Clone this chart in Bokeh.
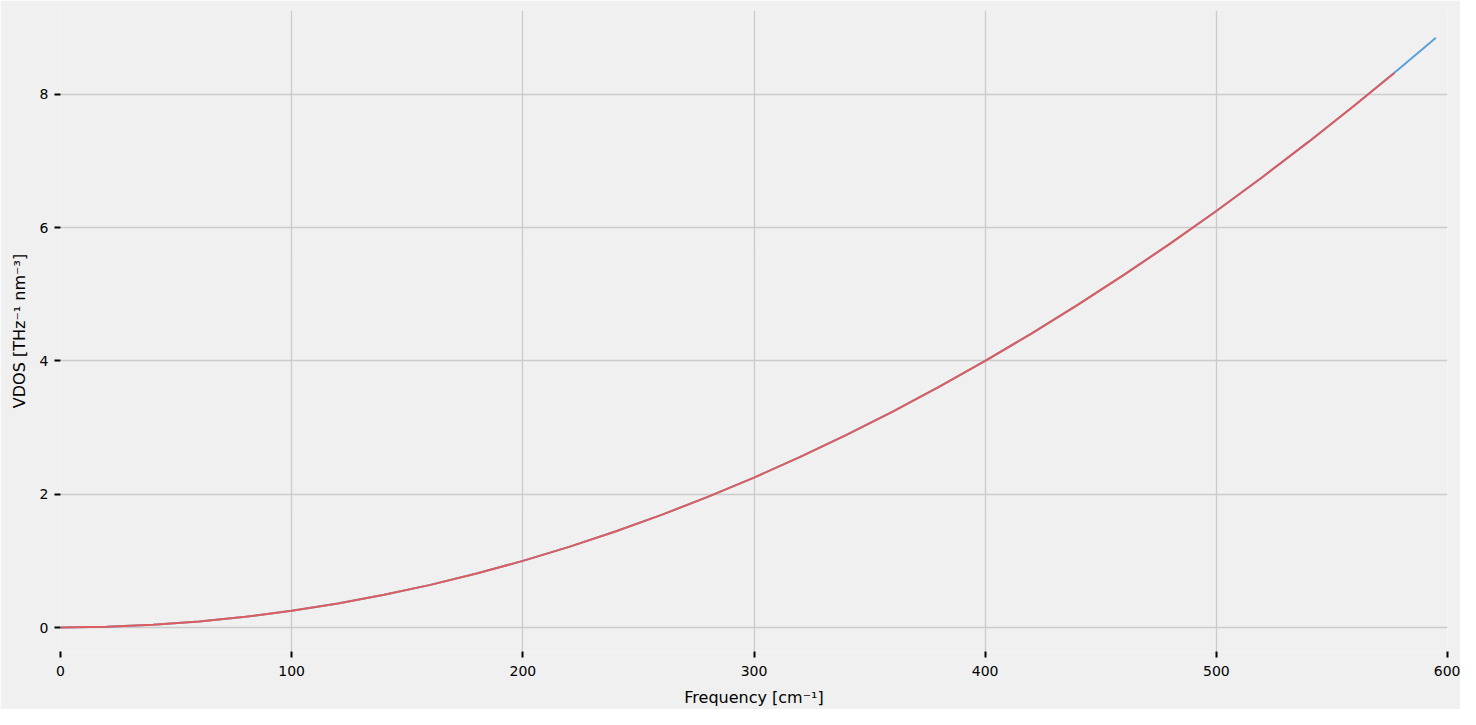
from bokeh.plotting import figure
from bokeh.models import FixedTicker, Range1d
from bokeh.embed import file_html
from bokeh.resources import INLINE

# Data
freq_blue = [0, 20, 40, 60, 80, 100, 120, 140, 160, 180, 200, 220, 240, 260,
             280, 300, 320, 340, 360, 380, 400, 420, 440, 460, 480, 500, 520,
             540, 560, 580, 595]
vdos_blue = [0.0, 0.01, 0.04, 0.09, 0.16, 0.25, 0.36, 0.49, 0.64, 0.81, 1.0,
             1.21, 1.44, 1.69, 1.96, 2.25, 2.56, 2.89, 3.24, 3.61, 4.0, 4.41,
             4.84, 5.29, 5.76, 6.25, 6.76, 7.29, 7.84, 8.41, 8.85]
freq_red = [0, 20, 40, 60, 80, 100, 120, 140, 160, 180, 200, 220, 240, 260,
            280, 300, 320, 340, 360, 380, 400, 420, 440, 460, 480, 500, 520,
            540, 560, 577]
vdos_red = [0.0, 0.01, 0.04, 0.09, 0.16, 0.25, 0.36, 0.49, 0.64, 0.81, 1.0,
            1.21, 1.44, 1.69, 1.96, 2.25, 2.56, 2.89, 3.24, 3.61, 4.0, 4.41,
            4.84, 5.29, 5.76, 6.25, 6.76, 7.29, 7.84, 8.32]
x_ticks = [0, 100, 200, 300, 400, 500, 600]
y_ticks = [0, 2, 4, 6, 8]

BG = "#f0f0f0"
p = figure(width=1460, height=709, output_backend="svg", toolbar_location=None,
           x_range=Range1d(0, 600), y_range=Range1d(-0.36, 9.258),
           background_fill_color=BG, border_fill_color=BG,
           min_border_left=60, min_border_right=13, min_border_top=10,
           min_border_bottom=57)
p.outline_line_color = None

p.line(freq_blue, vdos_blue, line_color="#5aa0d8", line_width=2)
p.line(freq_red, vdos_red, line_color="#e05c5c", line_width=2)

p.xaxis.ticker = FixedTicker(ticks=x_ticks)
p.yaxis.ticker = FixedTicker(ticks=y_ticks)
p.xaxis.axis_label = "Frequency [cm\u207b\u00b9]"
p.yaxis.axis_label = "VDOS [THz\u207b\u00b9 nm\u207b\u00b3]"

for ax in (p.xaxis, p.yaxis):
    ax.axis_line_color = None
    ax.major_tick_line_color = "#000000"
    ax.major_tick_line_width = 2
    ax.major_tick_in = 0
    ax.major_tick_out = 6
    ax.minor_tick_line_color = None
    ax.major_label_text_font = "DejaVu Sans"
    ax.major_label_text_font_size = "14px"
    ax.major_label_text_color = "#000000"
    ax.axis_label_text_font = "DejaVu Sans"
    ax.axis_label_text_font_size = "16px"
    ax.axis_label_text_font_style = "normal"
    ax.axis_label_text_color = "#000000"

p.xaxis.major_label_standoff = 8
p.yaxis.major_label_standoff = 6
p.xaxis.axis_label_standoff = 9
p.yaxis.axis_label_standoff = 8

p.xgrid.grid_line_color = "#cbcbcb"
p.ygrid.grid_line_color = "#cbcbcb"
p.xgrid.grid_line_width = 1.3
p.ygrid.grid_line_width = 1.3

open("out.html", "w").write(file_html(p, INLINE))
